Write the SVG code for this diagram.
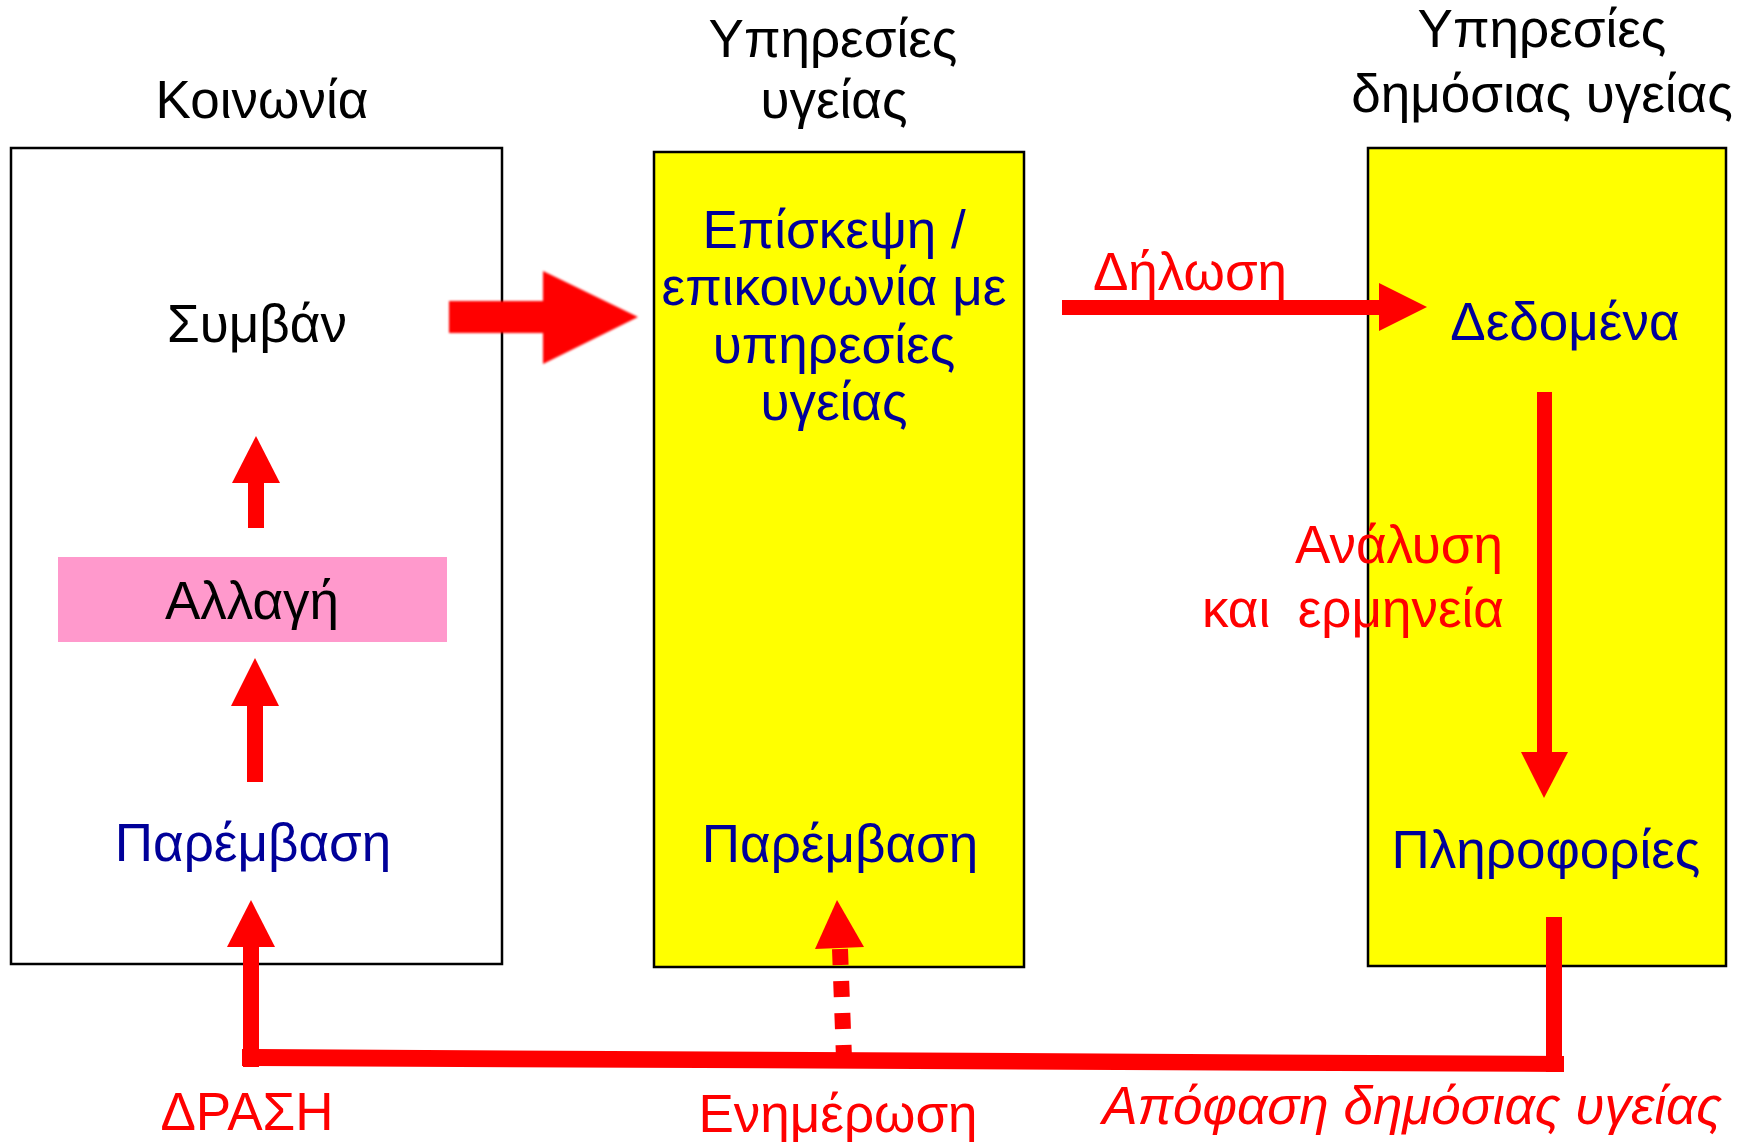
<svg xmlns="http://www.w3.org/2000/svg" width="1746" height="1142" viewBox="0 0 1746 1142">
  <style>
    text { font-family: "Liberation Sans", Arial, sans-serif; font-size: 53px; text-anchor: middle; }
    .title { fill: #000000; }
    .item { fill: #000099; }
    .black { fill: #000000; }
    .lbl { fill: #FF0000; }
    .it { font-style: italic; }
    .end { text-anchor: end; }
    .start { text-anchor: start; }
    .frame { stroke: #000000; stroke-width: 2.5; }
    .red { fill: #FF0000; }
  </style>
  <defs>
    <filter id="soft" x="-5%" y="-5%" width="110%" height="110%">
      <feGaussianBlur stdDeviation="0.8"/>
    </filter>
  </defs>

  <rect width="1746" height="1142" fill="#FFFFFF"/>

  <!-- Column titles -->
  <g id="titles">
    <text class="title" x="262" y="118">Κοινωνία</text>
    <text class="title" x="833" y="57">Υπηρεσίες</text>
    <text class="title" x="834" y="118">υγείας</text>
    <text class="title" x="1542" y="47">Υπηρεσίες</text>
    <text class="title" x="1542" y="112">δημόσιας υγείας</text>
  </g>

  <!-- Society column -->
  <g id="society">
    <rect class="frame" x="11" y="148" width="491" height="816" fill="#FFFFFF"/>
  </g>
  <g id="event">
    <text class="black" x="257" y="342">Συμβάν</text>
  </g>
  <g id="change">
    <rect x="58" y="557" width="389" height="85" fill="#FF99CC"/>
    <text class="black" x="252" y="619">Αλλαγή</text>
  </g>
  <g id="intervention-society">
    <text class="item" x="253" y="861">Παρέμβαση</text>
  </g>

  <!-- Health services column -->
  <g id="health-services">
    <rect class="frame" x="654" y="152" width="370" height="815" fill="#FFFF00"/>
    <text class="item" x="834" y="248">Επίσκεψη /</text>
    <text class="item" x="834" y="305">επικοινωνία με</text>
    <text class="item" x="834" y="363">υπηρεσίες</text>
    <text class="item" x="834" y="420">υγείας</text>
  </g>
  <g id="intervention-services">
    <text class="item" x="840" y="862">Παρέμβαση</text>
  </g>

  <!-- Public health services column -->
  <g id="public-health">
    <rect class="frame" x="1368" y="148" width="358" height="818" fill="#FFFF00"/>
  </g>
  <g id="data">
    <text class="item" x="1565" y="340">Δεδομένα</text>
  </g>
  <g id="information">
    <text class="item" x="1546" y="868">Πληροφορίες</text>
  </g>

  <!-- Connectors -->
  <g id="connectors" class="red">
    <!-- event to services: block arrow -->
    <polygon filter="url(#soft)" points="449,301 543,301 543,271 638,317 543,364 543,333 449,333"/>

    <!-- intervention -> change -> event -->
    <rect x="247" y="706" width="16" height="76"/>
    <polygon points="255,658 279,706 231,706"/>
    <rect x="248" y="483" width="16" height="45"/>
    <polygon points="256,436 280,483 232,483"/>

    <!-- notification -->
    <rect x="1062" y="300" width="317" height="15"/>
    <polygon points="1379,283 1427,307 1379,331"/>

    <!-- data to information -->
    <rect x="1537" y="392" width="15" height="360"/>
    <polygon points="1521,752 1568,752 1544,798"/>

    <!-- decision feedback loop -->
    <rect x="1546" y="917" width="16" height="155"/>
    <polygon points="242,1049 1564,1056 1564,1072 242,1066"/>
    <rect x="243" y="947" width="16" height="120"/>
    <polygon points="251,900 275,947 227,947"/>

    <!-- informing: dashed -->
    <line x1="840" y1="949" x2="844" y2="1058" stroke="#FF0000" stroke-width="16" stroke-dasharray="16 16"/>
    <polygon points="837,900 864,947 815,949"/>
  </g>

  <!-- Connector labels -->
  <g id="labels">
    <text class="lbl" x="1190" y="290">Δήλωση</text>
    <text class="lbl end" x="1503" y="563">Ανάλυση</text>
    <text class="lbl"><tspan class="start" x="1202" y="627">και</tspan> <tspan class="end" x="1504" y="627">ερμηνεία</tspan></text>
    <text class="lbl" x="247" y="1130">ΔΡΑΣΗ</text>
    <text class="lbl" x="838" y="1132">Ενημέρωση</text>
    <text class="lbl it end" x="1722" y="1124">Απόφαση δημόσιας υγείας</text>
  </g>
</svg>
